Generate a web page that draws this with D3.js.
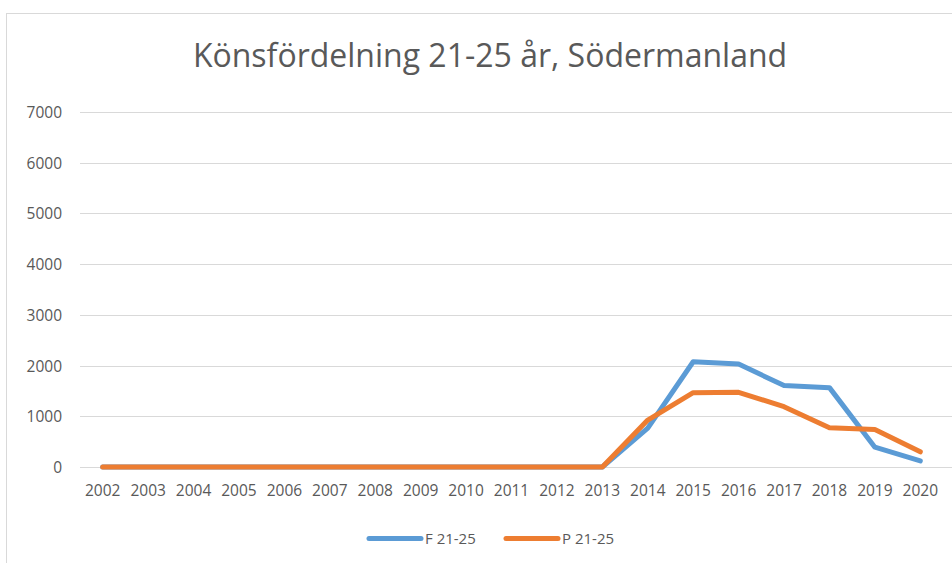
<!DOCTYPE html>
<html>
<head>
<meta charset="utf-8">
<script src="https://cdn.jsdelivr.net/npm/d3@7"></script>
<style>
  body { margin: 0; background: #fff; }
  text { font-family: "Open Sans", "Noto Sans", sans-serif; fill: #595959; }
</style>
</head>
<body>
<div class="chart"></div>
<script>
// Data
var years = ["2002", "2003", "2004", "2005", "2006", "2007", "2008", "2009", "2010", "2011",
  "2012", "2013", "2014", "2015", "2016", "2017", "2018", "2019", "2020"];
var fValues = [0, 0, 0, 0, 0, 0, 0, 0, 0, 0, 0, 0, 765, 2075, 2030, 1605, 1565, 390, 120];
var pValues = [0, 0, 0, 0, 0, 0, 0, 0, 0, 0, 0, 0, 925, 1465, 1473, 1190, 775, 740, 300];
var yTicks = [0, 1000, 2000, 3000, 4000, 5000, 6000, 7000];
var seriesNames = ["F 21-25", "P 21-25"];
var colors = ["#5b9bd5", "#ed7d31"];

var svgWidth = 952;
var svgHeight = 563;

var margin = { top: 112, right: 9, bottom: 96, left: 80 };
var width = svgWidth - margin.left - margin.right;
var height = svgHeight - margin.top - margin.bottom;

var svg = d3.select(".chart")
  .append("svg")
  .attr("width", svgWidth)
  .attr("height", svgHeight);

// chart border
svg.append("rect")
  .attr("x", 6.5)
  .attr("y", 13.5)
  .attr("width", 960)
  .attr("height", 570)
  .attr("fill", "none")
  .attr("stroke", "#d9d9d9");

// title
svg.append("text")
  .attr("x", 490)
  .attr("y", 67)
  .attr("text-anchor", "middle")
  .style("font-size", "32px")
  .text("Könsfördelning 21-25 år, Södermanland");

var chart = svg.append("g")
  .attr("transform", "translate(" + margin.left + "," + margin.top + ")");

var x = d3.scaleBand().domain(years).range([0, width]);
var y = d3.scaleLinear().domain([0, 7000]).range([height, 0]);

// gridlines
chart.append("g")
  .selectAll("line")
  .data(yTicks)
  .enter()
  .append("line")
  .attr("x1", 0)
  .attr("x2", width + 20)
  .attr("y1", function(d) { return Math.round(y(d)) + 0.5; })
  .attr("y2", function(d) { return Math.round(y(d)) + 0.5; })
  .attr("stroke", "#d9d9d9")
  .attr("stroke-width", 1);

// y labels
var leftAxis = d3.axisLeft(y).tickValues(yTicks).tickFormat(d3.format("d")).tickSize(0).tickPadding(18);
var yAxis = chart.append("g").call(leftAxis);
yAxis.select(".domain").remove();
yAxis.selectAll("text")
  .style("font-size", "15.5px")
  .attr("dy", "0.35em")
  .attr("fill", "#595959");

// x labels
var bottomAxis = d3.axisBottom(x).tickSize(0).tickPadding(18);
var xAxis = chart.append("g")
  .attr("transform", "translate(0," + height + ")")
  .call(bottomAxis);
xAxis.select(".domain").remove();
xAxis.selectAll("text")
  .style("font-size", "15.5px")
  .attr("fill", "#595959");

// lines
var line = d3.line()
  .x(function(d, i) { return x(years[i]) + x.bandwidth() / 2; })
  .y(function(d) { return y(d); });

[fValues, pValues].forEach(function(vals, i) {
  chart.append("path")
    .datum(vals)
    .attr("d", line)
    .attr("fill", "none")
    .attr("stroke", colors[i])
    .attr("stroke-width", 5)
    .attr("stroke-linejoin", "round")
    .attr("stroke-linecap", "round");
});

// legend
var legendX = [367, 504];
seriesNames.forEach(function(name, i) {
  var g = svg.append("g").attr("transform", "translate(" + legendX[i] + ",538.5)");
  g.append("line")
    .attr("x1", 2).attr("x2", 54)
    .attr("y1", 0).attr("y2", 0)
    .attr("stroke", colors[i])
    .attr("stroke-width", 5)
    .attr("stroke-linecap", "round");
  g.append("text")
    .attr("x", 58)
    .attr("y", 5.5)
    .style("font-size", "15px")
    .text(name);
});
</script>
</body>
</html>
